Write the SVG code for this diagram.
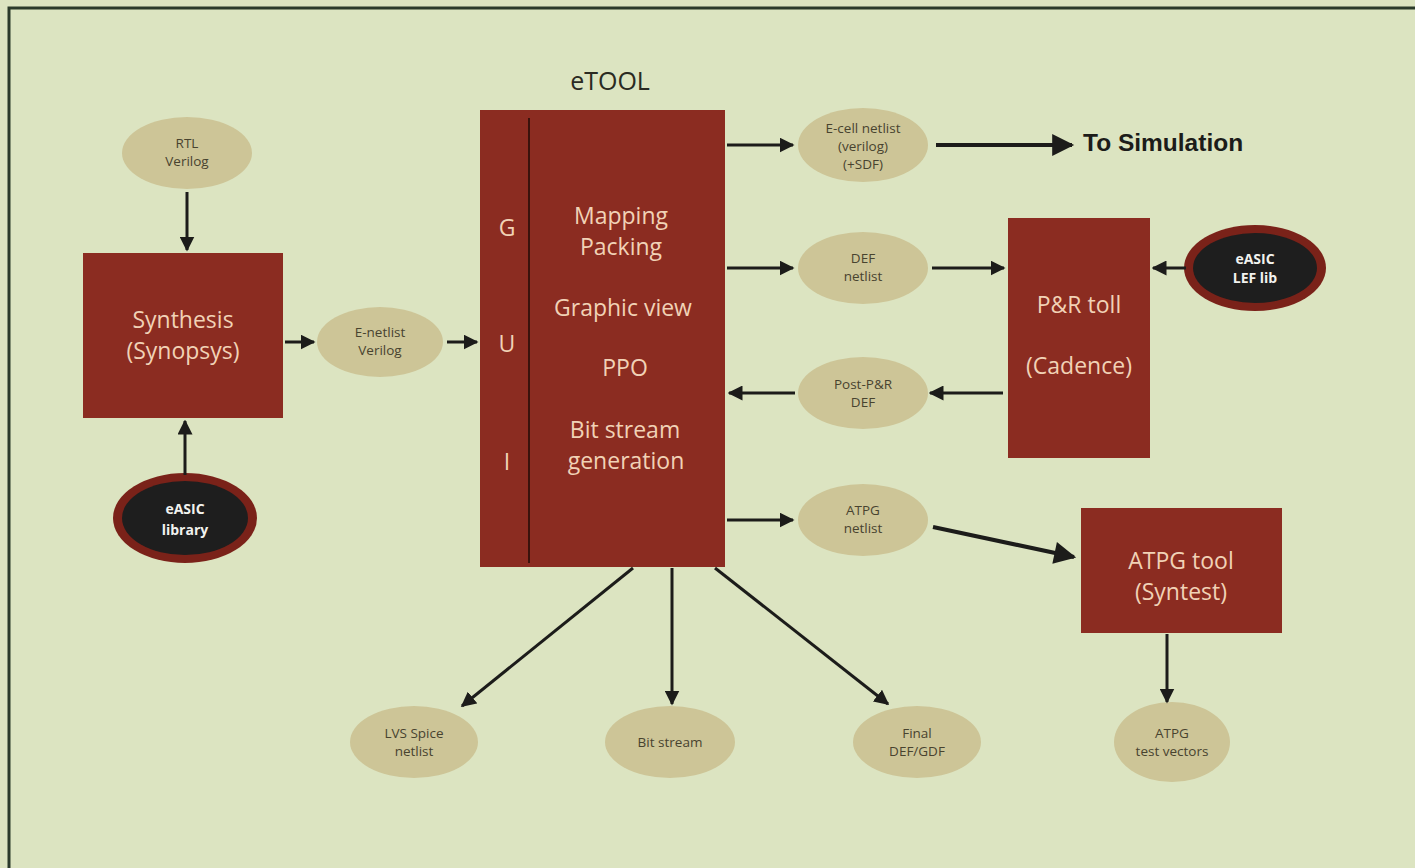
<svg xmlns="http://www.w3.org/2000/svg" width="1415" height="868" viewBox="0 0 1415 868">
<defs>
<marker id="ah" viewBox="0 0 10 10" refX="9" refY="5" markerWidth="5" markerHeight="5" orient="auto" markerUnits="strokeWidth"><path d="M0,0 L10,5 L0,10 z" fill="#1c1c1a"/></marker>
<marker id="ahb" viewBox="0 0 10 10" refX="9" refY="5" markerWidth="6.5" markerHeight="5.5" orient="auto" markerUnits="strokeWidth"><path d="M0,0 L10,5 L0,10 z" fill="#1c1c1a"/></marker>
<style>
.box{fill:#8b2c21;}
.ell{fill:#cdc597;}
.et{font-family:"Open Sans","Liberation Sans",sans-serif;font-size:13.5px;fill:#48432f;text-anchor:middle;}
.bt{font-family:"Open Sans","Liberation Sans",sans-serif;font-size:23px;fill:#f1d2b6;text-anchor:middle;}
.lib{font-family:"Open Sans","Liberation Sans",sans-serif;font-size:14px;font-weight:bold;fill:#f2f2ee;text-anchor:middle;}
.c{stroke:#1c1c1a;stroke-width:3;fill:none;marker-end:url(#ah);}
.cb{stroke:#1c1c1a;stroke-width:4;fill:none;marker-end:url(#ahb);}
</style>
</defs>
<rect x="0" y="0" width="1415" height="868" fill="#dce4c1"/>
<path d="M9,868 L9,8 L1415,8" fill="none" stroke="#2b3a2b" stroke-width="3"/>

<g id="rtl"><ellipse class="ell" cx="187" cy="153" rx="65" ry="36"/><text class="et" x="187" y="148">RTL</text><text class="et" x="187" y="166">Verilog</text></g>
<g id="synthesis"><rect class="box" x="83" y="253" width="200" height="165"/><text class="bt" x="183" y="328">Synthesis</text><text class="bt" x="183" y="359">(Synopsys)</text></g>
<g id="easic-lib"><ellipse cx="185" cy="518" rx="72" ry="45" fill="#7a2219"/><ellipse cx="185" cy="518" rx="63" ry="37" fill="#1e1e1e"/><text class="lib" x="185" y="514">eASIC</text><text class="lib" x="185" y="535">library</text></g>
<g id="enetlist"><ellipse class="ell" cx="380" cy="342" rx="63" ry="35"/><text class="et" x="380" y="337">E-netlist</text><text class="et" x="380" y="355">Verilog</text></g>
<g id="etool">
<text x="610" y="90" text-anchor="middle" font-family="Open Sans,Liberation Sans,sans-serif" font-size="25" fill="#2a2a22">eTOOL</text>
<rect class="box" x="480" y="110" width="245" height="457"/>
<line x1="529" y1="118" x2="529" y2="563" stroke="#3a120c" stroke-width="2"/>
<text class="bt" x="507" y="236" font-size="24">G</text>
<text class="bt" x="507" y="352" font-size="24">U</text>
<text class="bt" x="507" y="470" font-size="24">I</text>
<text class="bt" x="621" y="224">Mapping</text>
<text class="bt" x="621" y="255">Packing</text>
<text class="bt" x="623" y="316">Graphic view</text>
<text class="bt" x="625" y="376">PPO</text>
<text class="bt" x="625" y="438">Bit stream</text>
<text class="bt" x="626" y="469">generation</text>
</g>
<g id="ecell"><ellipse class="ell" cx="863" cy="145" rx="65" ry="37"/><text class="et" x="863" y="133">E-cell netlist</text><text class="et" x="863" y="151">(verilog)</text><text class="et" x="863" y="169">(+SDF)</text></g>
<g id="tosim"><text x="1083" y="151" font-family="Liberation Sans,Arial,sans-serif" font-size="24.5" font-weight="bold" fill="#1c1c1a">To Simulation</text></g>
<g id="defnetlist"><ellipse class="ell" cx="863" cy="268" rx="65" ry="36"/><text class="et" x="863" y="263">DEF</text><text class="et" x="863" y="281">netlist</text></g>
<g id="pr"><rect class="box" x="1008" y="218" width="142" height="240"/><text class="bt" x="1079" y="313">P&amp;R toll</text><text class="bt" x="1079" y="374">(Cadence)</text></g>
<g id="lef"><ellipse cx="1255" cy="268" rx="71" ry="43" fill="#7a2219"/><ellipse cx="1255" cy="268" rx="62" ry="35" fill="#1e1e1e"/><text class="lib" x="1255" y="264" font-size="13">eASIC</text><text class="lib" x="1255" y="283" font-size="13">LEF lib</text></g>
<g id="postpr"><ellipse class="ell" cx="863" cy="393" rx="65" ry="36"/><text class="et" x="863" y="389">Post-P&amp;R</text><text class="et" x="863" y="407">DEF</text></g>
<g id="atpgnetlist"><ellipse class="ell" cx="863" cy="520" rx="65" ry="36"/><text class="et" x="863" y="515">ATPG</text><text class="et" x="863" y="533">netlist</text></g>
<g id="atpgtool"><rect class="box" x="1081" y="508" width="201" height="125"/><text class="bt" x="1181" y="569">ATPG tool</text><text class="bt" x="1181" y="600">(Syntest)</text></g>
<g id="lvs"><ellipse class="ell" cx="414" cy="742" rx="64" ry="36"/><text class="et" x="414" y="738">LVS Spice</text><text class="et" x="414" y="756">netlist</text></g>
<g id="bitstream"><ellipse class="ell" cx="670" cy="742" rx="65" ry="36"/><text class="et" x="670" y="747">Bit stream</text></g>
<g id="final"><ellipse class="ell" cx="917" cy="742" rx="64" ry="36"/><text class="et" x="917" y="738">Final</text><text class="et" x="917" y="756">DEF/GDF</text></g>
<g id="atpgvec"><ellipse class="ell" cx="1172" cy="742" rx="58" ry="40"/><text class="et" x="1172" y="738">ATPG</text><text class="et" x="1172" y="756">test vectors</text></g>

<g id="connectors">
<line class="c" x1="187" y1="192" x2="187" y2="250"/>
<line class="c" x1="185" y1="475" x2="185" y2="421"/>
<line class="c" x1="285" y1="342" x2="314" y2="342"/>
<line class="c" x1="447" y1="342" x2="477" y2="342"/>
<line class="c" x1="727" y1="145" x2="793" y2="145"/>
<line class="cb" x1="936" y1="145" x2="1072" y2="145"/>
<line class="c" x1="727" y1="268" x2="793" y2="268"/>
<line class="c" x1="932" y1="268" x2="1004" y2="268"/>
<line class="c" x1="1186" y1="268" x2="1153" y2="268"/>
<line class="c" x1="1003" y1="393" x2="930" y2="393"/>
<line class="c" x1="795" y1="393" x2="729" y2="393"/>
<line class="c" x1="727" y1="520" x2="793" y2="520"/>
<line class="cb" x1="933" y1="527" x2="1074" y2="557"/>
<line class="c" x1="1167" y1="634" x2="1167" y2="702"/>
<line class="c" x1="633" y1="568" x2="462" y2="706"/>
<line class="c" x1="672" y1="568" x2="672" y2="704"/>
<line class="c" x1="715" y1="568" x2="888" y2="704"/>
</g>
</svg>
